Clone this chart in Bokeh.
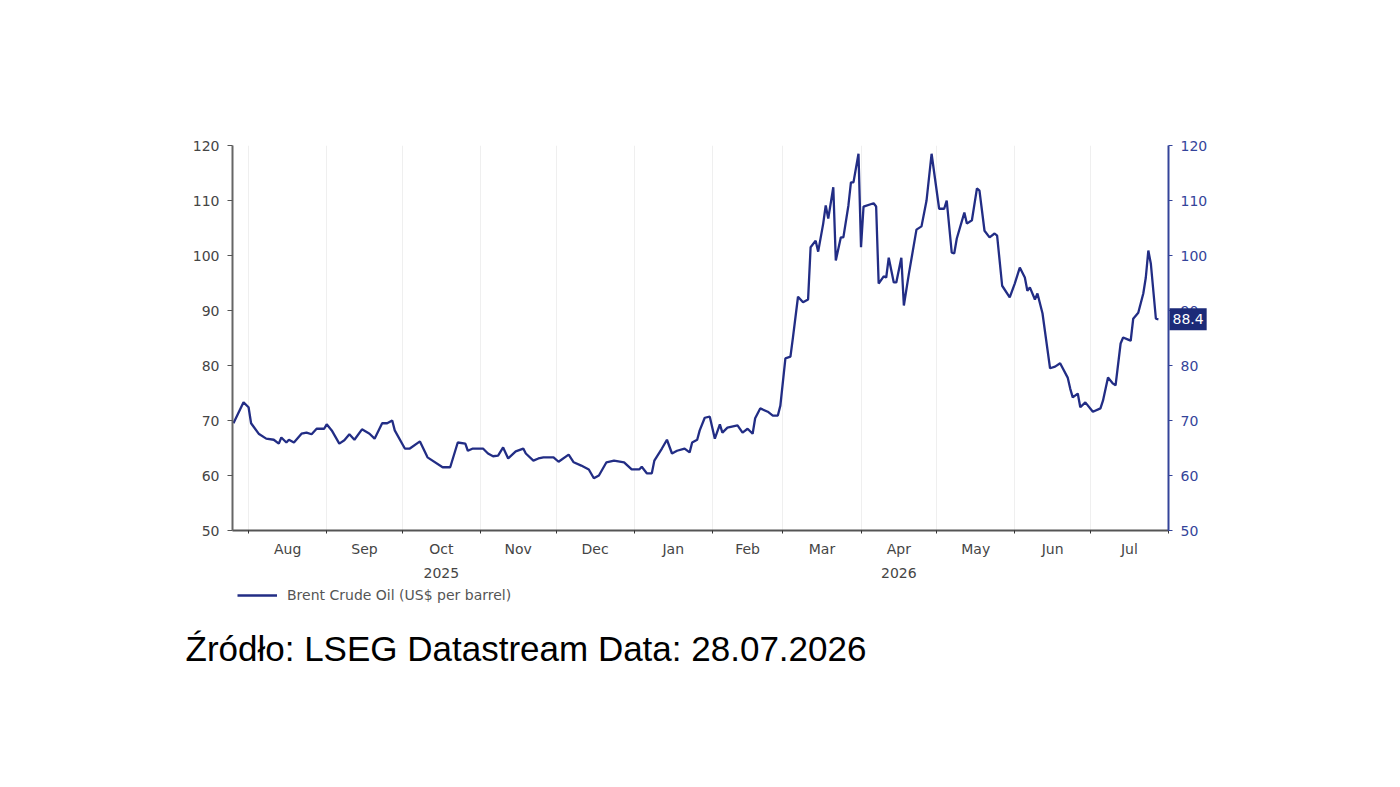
import pandas as pd
from bokeh.plotting import figure
from bokeh.layouts import column
from bokeh.models import (Range1d, LinearAxis, DatetimeAxis, FixedTicker, Legend,
                          LegendItem, Label, ColumnDataSource)
from bokeh.embed import file_html
from bokeh.resources import INLINE

# Brent crude, US$ per barrel
dates = [
    "2025-07-26", "2025-07-30", "2025-08-01", "2025-08-02", "2025-08-05", "2025-08-08",
    "2025-08-11", "2025-08-13", "2025-08-14", "2025-08-16", "2025-08-17", "2025-08-19",
    "2025-08-22", "2025-08-24", "2025-08-26", "2025-08-28", "2025-08-31", "2025-09-01",
    "2025-09-03", "2025-09-06", "2025-09-08", "2025-09-10", "2025-09-12", "2025-09-15",
    "2025-09-18", "2025-09-20", "2025-09-23", "2025-09-25", "2025-09-27", "2025-09-28",
    "2025-10-02", "2025-10-04", "2025-10-08", "2025-10-11", "2025-10-17", "2025-10-20",
    "2025-10-23", "2025-10-26", "2025-10-27", "2025-10-29", "2025-11-02", "2025-11-04",
    "2025-11-06", "2025-11-08", "2025-11-10", "2025-11-12", "2025-11-15", "2025-11-18",
    "2025-11-19", "2025-11-22", "2025-11-24", "2025-11-26", "2025-11-30", "2025-12-02",
    "2025-12-06", "2025-12-08", "2025-12-11", "2025-12-14", "2025-12-16", "2025-12-18",
    "2025-12-21", "2025-12-24", "2025-12-28", "2025-12-31", "2026-01-03", "2026-01-04",
    "2026-01-06", "2026-01-08", "2026-01-09", "2026-01-12", "2026-01-14", "2026-01-16",
    "2026-01-18", "2026-01-21", "2026-01-23", "2026-01-24", "2026-01-26", "2026-01-27",
    "2026-01-29", "2026-01-31", "2026-02-02", "2026-02-04", "2026-02-05", "2026-02-07",
    "2026-02-11", "2026-02-13", "2026-02-15", "2026-02-17", "2026-02-18", "2026-02-20",
    "2026-02-23", "2026-02-25", "2026-02-27", "2026-02-28", "2026-03-02", "2026-03-04",
    "2026-03-05", "2026-03-07", "2026-03-09", "2026-03-11", "2026-03-12", "2026-03-14",
    "2026-03-15", "2026-03-17", "2026-03-18", "2026-03-19", "2026-03-21", "2026-03-22",
    "2026-03-24", "2026-03-25", "2026-03-27", "2026-03-28", "2026-03-29", "2026-03-31",
    "2026-04-01", "2026-04-02", "2026-04-06", "2026-04-07", "2026-04-08", "2026-04-10",
    "2026-04-11", "2026-04-12", "2026-04-14", "2026-04-15", "2026-04-17", "2026-04-18",
    "2026-04-20", "2026-04-23", "2026-04-25", "2026-04-27", "2026-04-29", "2026-05-02",
    "2026-05-04", "2026-05-05", "2026-05-07", "2026-05-08", "2026-05-09", "2026-05-12",
    "2026-05-13", "2026-05-15", "2026-05-17", "2026-05-18", "2026-05-20", "2026-05-22",
    "2026-05-24", "2026-05-25", "2026-05-27", "2026-05-30", "2026-06-01", "2026-06-03",
    "2026-06-05", "2026-06-06", "2026-06-07", "2026-06-09", "2026-06-10", "2026-06-12",
    "2026-06-15", "2026-06-17", "2026-06-19", "2026-06-22", "2026-06-23", "2026-06-24",
    "2026-06-26", "2026-06-27", "2026-06-29", "2026-07-02", "2026-07-05", "2026-07-06",
    "2026-07-08", "2026-07-10", "2026-07-11", "2026-07-13", "2026-07-14", "2026-07-16",
    "2026-07-17", "2026-07-18", "2026-07-20", "2026-07-22", "2026-07-23", "2026-07-24",
    "2026-07-25", "2026-07-27", "2026-07-28",
]
brent = [
    69.5, 73.3, 72.4, 69.5, 67.6, 66.7,
    66.5, 65.8, 66.9, 66.0, 66.5, 66.0,
    67.6, 67.8, 67.5, 68.5, 68.5, 69.3,
    68.2, 65.8, 66.4, 67.5, 66.5, 68.4,
    67.6, 66.7, 69.5, 69.5, 70.0, 68.2,
    64.9, 64.9, 66.2, 63.3, 61.5, 61.5,
    66.0, 65.8, 64.5, 64.9, 64.9, 64.0,
    63.5, 63.6, 65.1, 63.1, 64.4, 64.9,
    64.0, 62.7, 63.1, 63.3, 63.3, 62.5,
    63.8, 62.4, 61.8, 61.1, 59.5, 60.0,
    62.4, 62.7, 62.4, 61.1, 61.1, 61.6,
    60.4, 60.4, 62.7, 64.9, 66.5, 64.0,
    64.5, 64.9, 64.2, 66.0, 66.5, 68.2,
    70.5, 70.7, 66.7, 69.3, 67.8, 68.7,
    69.1, 67.8, 68.5, 67.6, 70.4, 72.2,
    71.6, 70.9, 70.9, 72.7, 81.3, 81.6,
    85.1, 92.5, 91.5, 92.0, 101.5, 102.7,
    100.7, 105.8, 109.1, 106.7, 112.4, 99.1,
    103.3, 103.3, 109.1, 113.3, 113.3, 118.5,
    101.5, 108.9, 109.5, 108.9, 94.9, 96.2,
    96.0, 99.6, 95.1, 95.1, 99.6, 90.9,
    96.7, 104.7, 105.3, 110.0, 118.5, 108.5,
    108.5, 110.0, 100.5, 100.4, 103.1, 107.8,
    105.8, 106.4, 112.2, 111.8, 104.5, 103.3,
    104.0, 103.6, 94.5, 92.4, 94.9, 97.8,
    96.0, 93.6, 94.2, 92.0, 93.1, 89.5,
    79.5, 79.8, 80.4, 77.8, 75.8, 74.2,
    74.9, 72.4, 73.3, 71.6, 72.2, 73.6,
    77.8, 76.7, 76.4, 84.0, 85.1, 84.7,
    84.5, 88.5, 89.6, 93.1, 96.0, 100.9,
    98.5, 88.5, 88.4,
]
last_value_text = "88.4"
month_labels = ["Aug", "Sep", "Oct", "Nov", "Dec", "Jan", "Feb", "Mar", "Apr", "May", "Jun", "Jul"]
year_labels = {"2025-10": "2025", "2026-04": "2026"}
y_ticks = [50, 60, 70, 80, 90, 100, 110, 120]
legend_text = "Brent Crude Oil (US$ per barrel)"
source_text = "Źródło: LSEG Datastream Data: 28.07.2026"

NAVY = "#222d85"
AXIS_BLUE = "#34449a"
TAG_BG = "#1c2a78"
GREY_TEXT = "#454545"
TICK_FONT = "DejaVu Sans"

X_START, X_END = "2025-07-25 15:00", "2026-08-01 00:00"
CHART_H = 587      # chart figure with its two date rows
FOOT_H = 787 - CHART_H


def ms(ts):
    return int(pd.Timestamp(ts).value // 10**6)


# month boundaries carry the tick marks, month labels sit mid-month
month_starts = pd.date_range("2025-08-01", "2026-08-01", freq="MS")
boundaries = [ms(t) for t in month_starts]
mids = [(a + b) // 2 for a, b in zip(boundaries[:-1], boundaries[1:])]
mid_by_month = {t.strftime("%Y-%m"): m for t, m in zip(month_starts[:-1], mids)}

src = ColumnDataSource(dict(x=pd.to_datetime(dates), y=brent))

p = figure(
    width=1400, height=CHART_H,
    x_axis_type="datetime",
    x_range=Range1d(ms(X_START), ms(X_END)),
    y_range=Range1d(50, 120),
    output_backend="svg", toolbar_location=None,
    min_border_left=232, min_border_right=232,
    min_border_top=145, min_border_bottom=CHART_H - 145 - 385,
    background_fill_color="white", border_fill_color="white",
    outline_line_color=None,
)
p.frame_align = False

# faint vertical lines at each month boundary
p.xgrid.ticker = FixedTicker(ticks=boundaries)
p.xgrid.grid_line_color = "#efefef"
p.ygrid.grid_line_color = None

# left value axis
ya = p.yaxis[0]
ya.ticker = FixedTicker(ticks=y_ticks)
ya.axis_line_color = "#666666"
ya.axis_line_width = 2
ya.major_tick_line_color = "#555555"
ya.major_tick_out = 5
ya.major_tick_in = 0
ya.minor_tick_line_color = None
ya.major_label_text_font = TICK_FONT
ya.major_label_text_font_size = "14px"
ya.major_label_text_color = GREY_TEXT
ya.major_label_standoff = 8

# right value axis
ra = LinearAxis(ticker=FixedTicker(ticks=y_ticks))
ra.axis_line_color = AXIS_BLUE
ra.axis_line_width = 2
ra.major_tick_line_color = AXIS_BLUE
ra.major_tick_out = 4
ra.major_tick_in = 0
ra.minor_tick_line_color = None
ra.major_label_text_font = TICK_FONT
ra.major_label_text_font_size = "14px"
ra.major_label_text_color = AXIS_BLUE
ra.major_label_standoff = 8
p.add_layout(ra, "right")

# month axis: ticks at boundaries, names mid-month
xa = p.xaxis[0]
xa.ticker = FixedTicker(ticks=mids, minor_ticks=boundaries)
xa.major_label_overrides = {m: lab for m, lab in zip(mids, month_labels)}
xa.axis_line_color = "#555555"
xa.axis_line_width = 2
xa.major_tick_line_color = None
xa.major_tick_out = 0
xa.major_tick_in = 0
xa.minor_tick_line_color = "#333333"
xa.minor_tick_out = 3
xa.minor_tick_in = 0
xa.major_label_text_font = TICK_FONT
xa.major_label_text_font_size = "14px"
xa.major_label_text_color = GREY_TEXT
xa.major_label_standoff = 7

# year row underneath
year_ticks = [mid_by_month[k] for k in year_labels]
ya2 = DatetimeAxis(ticker=FixedTicker(ticks=year_ticks))
ya2.major_label_overrides = {mid_by_month[k]: v for k, v in year_labels.items()}
ya2.axis_line_color = None
ya2.major_tick_line_color = None
ya2.minor_tick_line_color = None
ya2.major_label_text_font = TICK_FONT
ya2.major_label_text_font_size = "14px"
ya2.major_label_text_color = GREY_TEXT
ya2.major_label_standoff = 2
p.add_layout(ya2, "below")

r = p.line("x", "y", source=src, line_color=NAVY, line_width=2.3)

# latest-value tag on the right axis, placed at the last observation's value
p.add_layout(Label(
    x=ms(X_END), y=brent[-1], x_units="data", y_units="data", x_offset=1,
    text=last_value_text, text_baseline="middle", text_align="left",
    text_font=TICK_FONT, text_font_size="14px", text_color="white",
    background_fill_color=TAG_BG, padding=(3, 6),
), "right")

# footer: series key and source line
foot = figure(
    width=1400, height=FOOT_H,
    x_range=Range1d(0, 1400), y_range=Range1d(0, FOOT_H),
    output_backend="svg", toolbar_location=None,
    min_border=0, x_axis_location=None, y_axis_location=None,
    background_fill_color="white", border_fill_color="white",
    outline_line_color=None,
)
foot.frame_align = False
foot.grid.visible = False
# same series, styled as in the chart; its dates lie outside this strip's range,
# so only the key sample is drawn
key_r = foot.line("x", "y", source=src, line_color=NAVY, line_width=2.3)
foot.add_layout(Legend(
    items=[LegendItem(label=legend_text, renderers=[key_r])],
    location=(237, FOOT_H - 16),
    glyph_width=40, glyph_height=14, label_height=14,
    label_standoff=10, padding=0, margin=0, spacing=0,
    border_line_color=None, background_fill_alpha=0,
    label_text_font=TICK_FONT, label_text_font_size="14px",
    label_text_color="#555555",
))
foot.add_layout(Label(
    x=185, y=FOOT_H - 61, x_units="screen", y_units="screen",
    text=source_text, text_baseline="alphabetic",
    text_font="Liberation Sans", text_font_size="35px", text_color="black",
))

open("out.html", "w").write(file_html(column(p, foot, spacing=0), INLINE))
